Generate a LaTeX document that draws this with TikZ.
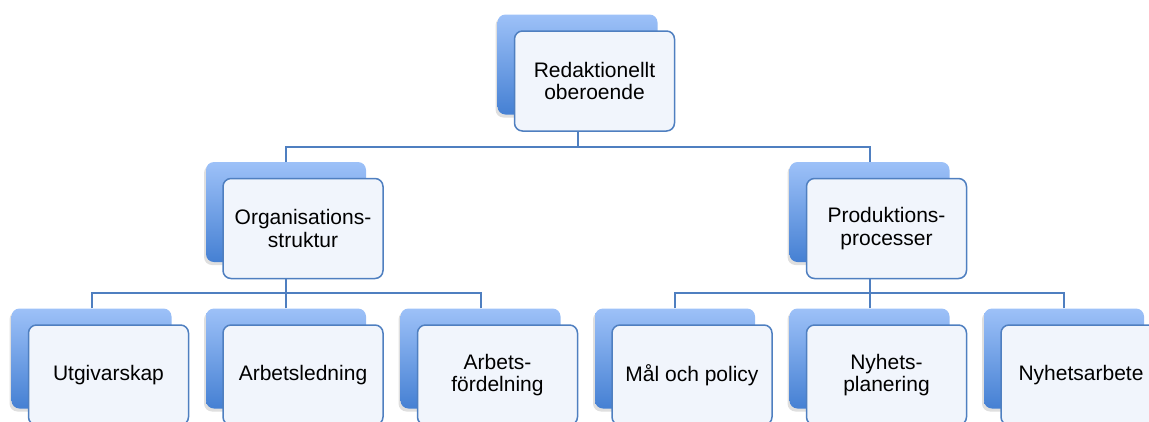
\documentclass[tikz,border=0pt]{standalone}
\usepackage{fontspec}
\setmainfont{Liberation Sans}
\usepackage{xcolor}
\usepackage{tikz}
\usetikzlibrary{shapes,positioning,shadows}
\definecolor{boxtop}{HTML}{9DC1F8}
\definecolor{boxbot}{HTML}{4580D3}
\definecolor{linec}{HTML}{4F7FC0}
\definecolor{frontfill}{HTML}{F1F5FC}
\tikzstyle{backbox} = [rectangle, rounded corners=8pt, minimum width=160pt, minimum height=100pt, top color=boxtop, bottom color=boxbot, drop shadow={shadow xshift=-2pt, shadow yshift=-3pt, opacity=0.25}]
\tikzstyle{frontbox} = [rectangle, draw=linec, line width=1.5pt, rounded corners=8pt, minimum width=160pt, minimum height=100pt, fill=frontfill, align=center, font=\fontsize{21}{22.5}\selectfont]
\tikzstyle{conn} = [draw=linec, line width=2pt]
\newcommand{\Front}[3]{\node[frontbox] (#1) at ([shift={(17pt,-16.5pt)}]#2.center) {#3};}

\begin{document}
\begin{tikzpicture}[node distance=146.5pt and 194.5pt, on grid]
	\useasboundingbox (0,0) rectangle (1149pt,-421pt);
	\clip (0,0) rectangle (1149pt,-421pt);
	\node[backbox] (top) at (577.5pt,-64.5pt) {};
	\node[backbox] (org) [below left=147.5pt and 291.5pt of top] {};
	\node[backbox] (prod) [below right=147.5pt and 292pt of top] {};
	\node[backbox] (utg) [below left=of org] {};
	\node[backbox] (led) [below=of org] {};
	\node[backbox] (fdl) [below right=of org] {};
	\node[backbox] (mal) [below left=of prod] {};
	\node[backbox] (plan) [below=of prod] {};
	\node[backbox] (arb) [below right=of prod] {};
	% connectors
	\draw[conn] (org.north) -- ++(0,15pt) -| (top.south);
	\draw[conn] (prod.north) -- ++(0,15pt) -| (top.south);
	\draw[conn] (utg.north) -- ++(0,15pt) -| (org.south);
	\draw[conn] (led.north) -- (org.south);
	\draw[conn] (fdl.north) -- ++(0,15pt) -| (org.south);
	\draw[conn] (mal.north) -- ++(0,15pt) -| (prod.south);
	\draw[conn] (plan.north) -- (prod.south);
	\draw[conn] (arb.north) -- ++(0,15pt) -| (prod.south);
	% front boxes
	\Front{topF}{top}{Redaktionellt\\oberoende}
	\Front{orgF}{org}{Organisations-\\struktur}
	\Front{prodF}{prod}{Produktions-\\processer}
	\Front{utgF}{utg}{Utgivarskap}
	\Front{ledF}{led}{Arbetsledning}
	\Front{fdlF}{fdl}{Arbets-\\fördelning}
	\Front{malF}{mal}{Mål och policy}
	\Front{planF}{plan}{Nyhets-\\planering}
	\Front{arbF}{arb}{Nyhetsarbete}
\end{tikzpicture}
\end{document}
